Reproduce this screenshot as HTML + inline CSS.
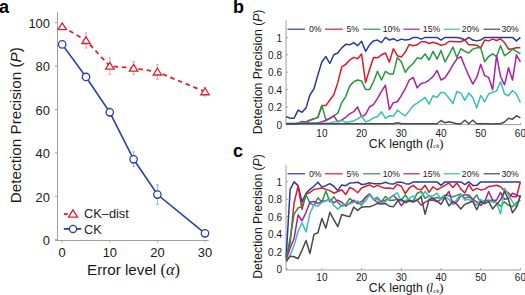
<!DOCTYPE html>
<html><head><meta charset="utf-8"><style>
html,body{margin:0;padding:0;background:#fff;}
body{width:525px;height:295px;overflow:hidden;}
svg{display:block;}
</style></head><body>
<svg width="525" height="295" viewBox="0 0 525 295">
<rect width="525" height="295" fill="#fff"/>
<text x="-1" y="12.7" font-size="18" font-weight="bold" font-family="Liberation Sans, sans-serif">a</text>
<line x1="57.5" y1="12" x2="57.5" y2="240.5" stroke="#a0a0a0" stroke-width="1"/>
<line x1="55" y1="240.5" x2="208.7" y2="240.5" stroke="#a0a0a0" stroke-width="1"/>
<line x1="55" y1="239.7" x2="57.5" y2="239.7" stroke="#a0a0a0" stroke-width="1"/>
<text x="49.9" y="244.9" font-size="12.9" text-anchor="end" font-family="Liberation Sans, sans-serif" fill="#1a1a1a">0</text>
<line x1="55" y1="196.3" x2="57.5" y2="196.3" stroke="#a0a0a0" stroke-width="1"/>
<text x="49.9" y="201.5" font-size="12.9" text-anchor="end" font-family="Liberation Sans, sans-serif" fill="#1a1a1a">20</text>
<line x1="55" y1="152.9" x2="57.5" y2="152.9" stroke="#a0a0a0" stroke-width="1"/>
<text x="49.9" y="158.1" font-size="12.9" text-anchor="end" font-family="Liberation Sans, sans-serif" fill="#1a1a1a">40</text>
<line x1="55" y1="109.5" x2="57.5" y2="109.5" stroke="#a0a0a0" stroke-width="1"/>
<text x="49.9" y="114.7" font-size="12.9" text-anchor="end" font-family="Liberation Sans, sans-serif" fill="#1a1a1a">60</text>
<line x1="55" y1="66.1" x2="57.5" y2="66.1" stroke="#a0a0a0" stroke-width="1"/>
<text x="49.9" y="71.3" font-size="12.9" text-anchor="end" font-family="Liberation Sans, sans-serif" fill="#1a1a1a">80</text>
<line x1="55" y1="22.7" x2="57.5" y2="22.7" stroke="#a0a0a0" stroke-width="1"/>
<text x="49.9" y="27.9" font-size="12.9" text-anchor="end" font-family="Liberation Sans, sans-serif" fill="#1a1a1a">100</text>
<line x1="62.2" y1="240.5" x2="62.2" y2="242.5" stroke="#a0a0a0" stroke-width="1"/>
<text x="62.2" y="256.7" font-size="12.9" text-anchor="middle" font-family="Liberation Sans, sans-serif" fill="#1a1a1a">0</text>
<line x1="109.8" y1="240.5" x2="109.8" y2="242.5" stroke="#a0a0a0" stroke-width="1"/>
<text x="109.8" y="256.7" font-size="12.9" text-anchor="middle" font-family="Liberation Sans, sans-serif" fill="#1a1a1a">10</text>
<line x1="157.4" y1="240.5" x2="157.4" y2="242.5" stroke="#a0a0a0" stroke-width="1"/>
<text x="157.4" y="256.7" font-size="12.9" text-anchor="middle" font-family="Liberation Sans, sans-serif" fill="#1a1a1a">20</text>
<line x1="205" y1="240.5" x2="205" y2="242.5" stroke="#a0a0a0" stroke-width="1"/>
<text x="205" y="256.7" font-size="12.9" text-anchor="middle" font-family="Liberation Sans, sans-serif" fill="#1a1a1a">30</text>
<text x="87" y="275.2" font-size="15.2" font-family="Liberation Sans, sans-serif" fill="#1a1a1a">Error level <tspan font-family="Liberation Serif, serif" font-size="16.5">(</tspan><tspan font-family="Liberation Serif, serif" font-style="italic" font-size="16.5">α</tspan><tspan font-family="Liberation Serif, serif" font-size="16.5">)</tspan></text>
<text transform="translate(21,125.2) rotate(-90)" x="0" y="0" font-size="15.25" text-anchor="middle" font-family="Liberation Sans, sans-serif" fill="#1a1a1a">Detection Precision (<tspan font-style="italic">P</tspan>)</text>
<path d="M86 32.9V48.09M84.7 32.9H87.3M84.7 48.09H87.3" stroke="#ef8a90" stroke-width="0.8" fill="none"/>
<path d="M109.8 57.85V74.35M108.5 57.85H111.1M108.5 74.35H111.1" stroke="#ef8a90" stroke-width="0.8" fill="none"/>
<path d="M133.6 61.54V74.56M132.3 61.54H134.9M132.3 74.56H134.9" stroke="#ef8a90" stroke-width="0.8" fill="none"/>
<path d="M157.4 64.36V79.55M156.1 64.36H158.7M156.1 79.55H158.7" stroke="#ef8a90" stroke-width="0.8" fill="none"/>
<path d="M205 87.37V96.05M203.7 87.37H206.3M203.7 96.05H206.3" stroke="#ef8a90" stroke-width="0.8" fill="none"/>
<path d="M109.8 107.98V116.66M108.5 107.98H111.1M108.5 116.66H111.1" stroke="#8a93c8" stroke-width="0.8" fill="none"/>
<path d="M133.6 151.92V166.68M132.3 151.92H134.9M132.3 166.68H134.9" stroke="#8a93c8" stroke-width="0.8" fill="none"/>
<path d="M157.4 184.8V204.33M156.1 184.8H158.7M156.1 204.33H158.7" stroke="#8a93c8" stroke-width="0.8" fill="none"/>
<path d="M205 231.13V235.47M203.7 231.13H206.3M203.7 235.47H206.3" stroke="#8a93c8" stroke-width="0.8" fill="none"/>
<polyline points="62.2,26.61 86,40.49 109.8,66.1 133.6,68.05 157.4,71.96 205,91.71" fill="none" stroke="#e0202e" stroke-width="1.8" stroke-dasharray="4.5 3.8"/>
<polyline points="62.2,44.4 86,76.95 109.8,112.32 133.6,159.3 157.4,194.56 205,233.3" fill="none" stroke="#2c3ea6" stroke-width="1.6"/>
<path d="M62.2 22.91L66.4 29.63H58Z" fill="#fff" stroke="#e0202e" stroke-width="1.3"/>
<path d="M86 36.8L90.2 43.52H81.8Z" fill="#fff" stroke="#e0202e" stroke-width="1.3"/>
<path d="M109.8 62.4L114 69.12H105.6Z" fill="#fff" stroke="#e0202e" stroke-width="1.3"/>
<path d="M133.6 64.36L137.8 71.08H129.4Z" fill="#fff" stroke="#e0202e" stroke-width="1.3"/>
<path d="M157.4 68.26L161.6 74.98H153.2Z" fill="#fff" stroke="#e0202e" stroke-width="1.3"/>
<path d="M205 88.01L209.2 94.73H200.8Z" fill="#fff" stroke="#e0202e" stroke-width="1.3"/>
<circle cx="62.2" cy="44.4" r="3.7" fill="#fff" stroke="#2c3ea6" stroke-width="1.3"/>
<circle cx="86" cy="76.95" r="3.7" fill="#fff" stroke="#2c3ea6" stroke-width="1.3"/>
<circle cx="109.8" cy="112.32" r="3.7" fill="#fff" stroke="#2c3ea6" stroke-width="1.3"/>
<circle cx="133.6" cy="159.3" r="3.7" fill="#fff" stroke="#2c3ea6" stroke-width="1.3"/>
<circle cx="157.4" cy="194.56" r="3.7" fill="#fff" stroke="#2c3ea6" stroke-width="1.3"/>
<circle cx="205" cy="233.3" r="3.7" fill="#fff" stroke="#2c3ea6" stroke-width="1.3"/>
<path d="M63.8 214.1H67.6" stroke="#e0202e" stroke-width="2"/>
<path d="M73 209.84L77.5 217.04H68.5Z" fill="#fff" stroke="#e0202e" stroke-width="1.3"/>
<text x="84" y="218" font-size="12.8" font-family="Liberation Sans, sans-serif" fill="#1a1a1a">CK–dist</text>
<line x1="63.8" y1="228.9" x2="81.3" y2="228.9" stroke="#2c3ea6" stroke-width="1.8"/>
<circle cx="73" cy="228.9" r="3.6" fill="#fff" stroke="#2c3ea6" stroke-width="1.3"/>
<text x="84" y="233.6" font-size="12.7" font-family="Liberation Sans, sans-serif" fill="#1a1a1a">CK</text>
<text x="233" y="12.7" font-size="18" font-weight="bold" font-family="Liberation Sans, sans-serif">b</text>
<line x1="286.0" y1="20.4" x2="286.0" y2="124.6" stroke="#a0a0a0" stroke-width="1"/>
<line x1="285.5" y1="124.6" x2="520.6" y2="124.6" stroke="#a0a0a0" stroke-width="1"/>
<line x1="286.0" y1="124.4" x2="288.0" y2="124.4" stroke="#a0a0a0" stroke-width="1"/>
<text x="282" y="128.5" font-size="10" text-anchor="end" font-family="Liberation Sans, sans-serif" fill="#1a1a1a">0</text>
<line x1="286.0" y1="107" x2="288.0" y2="107" stroke="#a0a0a0" stroke-width="1"/>
<text x="282" y="111.1" font-size="10" text-anchor="end" font-family="Liberation Sans, sans-serif" fill="#1a1a1a">0.2</text>
<line x1="286.0" y1="89.6" x2="288.0" y2="89.6" stroke="#a0a0a0" stroke-width="1"/>
<text x="282" y="93.7" font-size="10" text-anchor="end" font-family="Liberation Sans, sans-serif" fill="#1a1a1a">0.4</text>
<line x1="286.0" y1="72.2" x2="288.0" y2="72.2" stroke="#a0a0a0" stroke-width="1"/>
<text x="282" y="76.3" font-size="10" text-anchor="end" font-family="Liberation Sans, sans-serif" fill="#1a1a1a">0.6</text>
<line x1="286.0" y1="54.8" x2="288.0" y2="54.8" stroke="#a0a0a0" stroke-width="1"/>
<text x="282" y="58.9" font-size="10" text-anchor="end" font-family="Liberation Sans, sans-serif" fill="#1a1a1a">0.8</text>
<line x1="286.0" y1="37.4" x2="288.0" y2="37.4" stroke="#a0a0a0" stroke-width="1"/>
<text x="282" y="41.5" font-size="10" text-anchor="end" font-family="Liberation Sans, sans-serif" fill="#1a1a1a">1</text>
<line x1="321.9" y1="124.6" x2="321.9" y2="122.6" stroke="#a0a0a0" stroke-width="1"/>
<text x="321.9" y="136.6" font-size="10" text-anchor="middle" font-family="Liberation Sans, sans-serif" fill="#1a1a1a">10</text>
<line x1="361.6" y1="124.6" x2="361.6" y2="122.6" stroke="#a0a0a0" stroke-width="1"/>
<text x="361.6" y="136.6" font-size="10" text-anchor="middle" font-family="Liberation Sans, sans-serif" fill="#1a1a1a">20</text>
<line x1="401.3" y1="124.6" x2="401.3" y2="122.6" stroke="#a0a0a0" stroke-width="1"/>
<text x="401.3" y="136.6" font-size="10" text-anchor="middle" font-family="Liberation Sans, sans-serif" fill="#1a1a1a">30</text>
<line x1="441" y1="124.6" x2="441" y2="122.6" stroke="#a0a0a0" stroke-width="1"/>
<text x="441" y="136.6" font-size="10" text-anchor="middle" font-family="Liberation Sans, sans-serif" fill="#1a1a1a">40</text>
<line x1="480.7" y1="124.6" x2="480.7" y2="122.6" stroke="#a0a0a0" stroke-width="1"/>
<text x="480.7" y="136.6" font-size="10" text-anchor="middle" font-family="Liberation Sans, sans-serif" fill="#1a1a1a">50</text>
<line x1="520.4" y1="124.6" x2="520.4" y2="122.6" stroke="#a0a0a0" stroke-width="1"/>
<text x="520.4" y="136.6" font-size="10" text-anchor="middle" font-family="Liberation Sans, sans-serif" fill="#1a1a1a">60</text>
<text x="368.8" y="147.6" font-size="12.3" font-family="Liberation Sans, sans-serif" fill="#1a1a1a">CK length <tspan font-family="Liberation Serif, serif" font-size="13.5">(</tspan><tspan font-family="Liberation Serif, serif" font-style="italic" font-size="13" dx="-1.1">l</tspan><tspan font-size="6.8" font-family="Liberation Serif, serif" font-style="italic" dy="0.6">ck</tspan><tspan font-family="Liberation Serif, serif" font-size="13.5" dy="-0.6" dx="-0.3">)</tspan></text>
<text transform="translate(262.4,71.9) rotate(-90)" x="0" y="0" font-size="12.2" text-anchor="middle" font-family="Liberation Sans, sans-serif" fill="#1a1a1a">Detection Precision (<tspan font-style="italic">P</tspan>)</text>
<polyline points="286.17,116.83 290.14,118.14 294.11,118.14 298.08,110.05 302.05,112.22 306.02,107.87 309.99,94.82 313.96,88.73 317.93,74.81 321.9,61.76 325.87,56.54 329.84,63.5 333.81,54.8 337.78,53.06 341.75,47.84 345.72,44.36 349.69,44.8 353.66,42.62 357.63,45.67 361.6,41.32 365.57,51.32 369.54,44.8 373.51,40.88 377.48,40.01 381.45,42.62 385.42,37.4 389.39,40.01 393.36,38.71 397.33,40.88 401.3,39.14 405.27,40.01 409.24,39.58 413.21,37.4 417.18,37.4 421.15,39.14 425.12,37.4 429.09,37.4 433.06,37.4 437.03,37.4 441,40.01 444.97,37.4 448.94,37.4 452.91,37.4 456.88,37.4 460.85,38.27 464.82,40.01 468.79,37.4 472.76,40.01 476.73,40.88 480.7,40.01 484.67,37.4 488.64,37.4 492.61,37.4 496.58,37.4 500.55,37.4 504.52,37.4 508.49,37.4 512.46,37.4 516.43,40.88 520.4,37.4" fill="none" stroke="#2a3a9e" stroke-width="1.5" stroke-linejoin="round"/>
<polyline points="286.17,123.79 290.14,123.79 294.11,123.79 298.08,123.53 302.05,122.83 306.02,121.88 309.99,120.22 313.96,118.83 317.93,117.27 321.9,105.61 325.87,105.61 329.84,100.04 333.81,94.82 337.78,82.64 341.75,66.98 345.72,64.37 349.69,60.02 353.66,57.41 357.63,58.72 361.6,53.93 365.57,82.64 369.54,69.59 373.51,57.41 377.48,57.84 381.45,54.8 385.42,53.06 389.39,62.11 393.36,48.71 397.33,55.67 401.3,57.06 405.27,52.19 409.24,44.36 413.21,45.67 417.18,44.8 421.15,41.75 425.12,41.75 429.09,43.49 433.06,42.19 437.03,43.49 441,45.23 444.97,44.36 448.94,41.49 452.91,41.49 456.88,41.75 460.85,41.75 464.82,40.01 468.79,44.8 472.76,44.8 476.73,45.23 480.7,47.84 484.67,40.01 488.64,40.88 492.61,39.14 496.58,40.45 500.55,38.71 504.52,42.62 508.49,49.15 512.46,48.71 516.43,47.84 520.4,47.84" fill="none" stroke="#d91c2a" stroke-width="1.5" stroke-linejoin="round"/>
<polyline points="286.17,123.79 290.14,123.79 294.11,123.79 298.08,123.53 302.05,122.83 306.02,121.88 309.99,120.22 313.96,118.83 317.93,117.27 321.9,105.61 325.87,119.88 329.84,118.31 333.81,115.79 337.78,113.18 341.75,102.65 345.72,96.56 349.69,86.12 353.66,81.77 357.63,80.03 361.6,80.9 365.57,89.6 369.54,89.6 373.51,81.77 377.48,71.33 381.45,80.03 385.42,71.33 389.39,73.94 393.36,73.94 397.33,57.41 401.3,61.76 405.27,72.2 409.24,66.98 413.21,63.5 417.18,57.84 421.15,58.72 425.12,53.93 429.09,60.02 433.06,51.32 437.03,59.15 441,50.45 444.97,61.76 448.94,54.8 452.91,46.97 456.88,57.41 460.85,48.71 464.82,51.32 468.79,53.06 472.76,49.15 476.73,47.84 480.7,47.84 484.67,61.76 488.64,56.54 492.61,53.93 496.58,56.54 500.55,45.67 504.52,55.67 508.49,53.06 512.46,49.15 516.43,51.32 520.4,53.93" fill="none" stroke="#22993c" stroke-width="1.5" stroke-linejoin="round"/>
<polyline points="286.17,123.79 290.14,123.79 294.11,123.79 298.08,123.09 302.05,121.44 306.02,122.23 309.99,123.09 313.96,123.09 317.93,122.66 321.9,121.79 325.87,120.57 329.84,118.31 333.81,115.79 337.78,121.88 341.75,119.88 345.72,117.27 349.69,113.79 353.66,111.7 357.63,107 361.6,116.83 365.57,114.31 369.54,106.74 373.51,104.56 377.48,98.3 381.45,91.34 385.42,85.25 389.39,109.61 393.36,102.65 397.33,101.78 401.3,95.69 405.27,88.73 409.24,80.03 413.21,77.42 417.18,87.86 421.15,83.51 425.12,82.64 429.09,80.03 433.06,76.55 437.03,70.46 441,80.03 444.97,77.94 448.94,71.77 452.91,64.89 456.88,58.8 460.85,56.54 464.82,66.55 468.79,75.68 472.76,84.03 476.73,77.42 480.7,64.37 484.67,75.68 488.64,77.42 492.61,89.6 496.58,55.67 500.55,76.55 504.52,84.81 508.49,67.85 512.46,80.03 516.43,54.8 520.4,61.76" fill="none" stroke="#a8229f" stroke-width="1.5" stroke-linejoin="round"/>
<polyline points="286.17,123.27 290.14,123.27 294.11,123.27 298.08,123.27 302.05,123.27 306.02,123.27 309.99,123.27 313.96,123.27 317.93,123.27 321.9,123.27 325.87,123.27 329.84,123.27 333.81,121.88 337.78,121.36 341.75,120.4 345.72,122.4 349.69,121.79 353.66,120.92 357.63,118.83 361.6,116.14 365.57,121.88 369.54,120.48 373.51,117.79 377.48,116.83 381.45,111.79 385.42,118.31 389.39,115.87 393.36,116.22 397.33,110.22 401.3,113.26 405.27,115.87 409.24,110.92 413.21,105.7 417.18,103.09 421.15,100.3 425.12,97.43 429.09,104.13 433.06,95.69 437.03,97.43 441,92.21 444.97,93.08 448.94,98.3 452.91,103.52 456.88,91.51 460.85,93.08 464.82,100.3 468.79,93.08 472.76,97.43 476.73,107.87 480.7,95.43 484.67,101.78 488.64,93.95 492.61,92.21 496.58,90.91 500.55,81.77 504.52,93.95 508.49,95.69 512.46,90.47 516.43,93.95 520.4,102.65" fill="none" stroke="#3dbdb8" stroke-width="1.5" stroke-linejoin="round"/>
<polyline points="286.17,123.79 290.14,123.79 294.11,123.79 298.08,123.79 302.05,123.79 306.02,123.79 309.99,123.79 313.96,123.79 317.93,123.79 321.9,123.79 325.87,123.79 329.84,123.79 333.81,123.79 337.78,123.79 341.75,123.79 345.72,123.79 349.69,123.79 353.66,123.79 357.63,123.79 361.6,123.79 365.57,123.79 369.54,123.79 373.51,123.79 377.48,123.79 381.45,123.79 385.42,123.79 389.39,123.79 393.36,123.79 397.33,122.66 401.3,123.79 405.27,123.79 409.24,123.79 413.21,123.79 417.18,123.79 421.15,123.79 425.12,123.79 429.09,123.79 433.06,123.79 437.03,123.79 441,120.48 444.97,122.83 448.94,121.79 452.91,122.83 456.88,123.79 460.85,123.79 464.82,120.31 468.79,123.79 472.76,120.31 476.73,123.79 480.7,123.79 484.67,123.79 488.64,123.7 492.61,123.97 496.58,123.7 500.55,123.79 504.52,122.05 508.49,118.31 512.46,119.18 516.43,115.7 520.4,117.88" fill="none" stroke="#4a4a4a" stroke-width="1.5" stroke-linejoin="round"/>
<line x1="287.5" y1="29.2" x2="305" y2="29.2" stroke="#2a3a9e" stroke-width="1.2"/>
<text x="309" y="32.2" font-size="8.7" font-family="Liberation Sans, sans-serif" fill="#1a1a1a">0%</text>
<line x1="325" y1="29.2" x2="342.7" y2="29.2" stroke="#d91c2a" stroke-width="1.2"/>
<text x="346.5" y="32.2" font-size="8.7" font-family="Liberation Sans, sans-serif" fill="#1a1a1a">5%</text>
<line x1="363.1" y1="29.2" x2="380.3" y2="29.2" stroke="#22993c" stroke-width="1.2"/>
<text x="382.7" y="32.2" font-size="8.7" font-family="Liberation Sans, sans-serif" fill="#1a1a1a">10%</text>
<line x1="403.4" y1="29.2" x2="419.7" y2="29.2" stroke="#a8229f" stroke-width="1.2"/>
<text x="422.8" y="32.2" font-size="8.7" font-family="Liberation Sans, sans-serif" fill="#1a1a1a">15%</text>
<line x1="443.6" y1="29.2" x2="460" y2="29.2" stroke="#3dbdb8" stroke-width="1.2"/>
<text x="461.8" y="32.2" font-size="8.7" font-family="Liberation Sans, sans-serif" fill="#1a1a1a">20%</text>
<line x1="483.6" y1="29.2" x2="500" y2="29.2" stroke="#4a4a4a" stroke-width="1.2"/>
<text x="501.4" y="32.2" font-size="8.7" font-family="Liberation Sans, sans-serif" fill="#1a1a1a">30%</text>
<text x="233" y="157.3" font-size="18" font-weight="bold" font-family="Liberation Sans, sans-serif">c</text>
<line x1="286.0" y1="165" x2="286.0" y2="270" stroke="#a0a0a0" stroke-width="1"/>
<line x1="285.5" y1="270" x2="520.6" y2="270" stroke="#a0a0a0" stroke-width="1"/>
<line x1="286.0" y1="268.9" x2="288.0" y2="268.9" stroke="#a0a0a0" stroke-width="1"/>
<text x="282" y="273" font-size="10" text-anchor="end" font-family="Liberation Sans, sans-serif" fill="#1a1a1a">0</text>
<line x1="286.0" y1="251.5" x2="288.0" y2="251.5" stroke="#a0a0a0" stroke-width="1"/>
<text x="282" y="255.6" font-size="10" text-anchor="end" font-family="Liberation Sans, sans-serif" fill="#1a1a1a">0.2</text>
<line x1="286.0" y1="234.1" x2="288.0" y2="234.1" stroke="#a0a0a0" stroke-width="1"/>
<text x="282" y="238.2" font-size="10" text-anchor="end" font-family="Liberation Sans, sans-serif" fill="#1a1a1a">0.4</text>
<line x1="286.0" y1="216.7" x2="288.0" y2="216.7" stroke="#a0a0a0" stroke-width="1"/>
<text x="282" y="220.8" font-size="10" text-anchor="end" font-family="Liberation Sans, sans-serif" fill="#1a1a1a">0.6</text>
<line x1="286.0" y1="199.3" x2="288.0" y2="199.3" stroke="#a0a0a0" stroke-width="1"/>
<text x="282" y="203.4" font-size="10" text-anchor="end" font-family="Liberation Sans, sans-serif" fill="#1a1a1a">0.8</text>
<line x1="286.0" y1="181.9" x2="288.0" y2="181.9" stroke="#a0a0a0" stroke-width="1"/>
<text x="282" y="186" font-size="10" text-anchor="end" font-family="Liberation Sans, sans-serif" fill="#1a1a1a">1</text>
<line x1="321.9" y1="270" x2="321.9" y2="268" stroke="#a0a0a0" stroke-width="1"/>
<text x="321.9" y="281.2" font-size="10" text-anchor="middle" font-family="Liberation Sans, sans-serif" fill="#1a1a1a">10</text>
<line x1="361.6" y1="270" x2="361.6" y2="268" stroke="#a0a0a0" stroke-width="1"/>
<text x="361.6" y="281.2" font-size="10" text-anchor="middle" font-family="Liberation Sans, sans-serif" fill="#1a1a1a">20</text>
<line x1="401.3" y1="270" x2="401.3" y2="268" stroke="#a0a0a0" stroke-width="1"/>
<text x="401.3" y="281.2" font-size="10" text-anchor="middle" font-family="Liberation Sans, sans-serif" fill="#1a1a1a">30</text>
<line x1="441" y1="270" x2="441" y2="268" stroke="#a0a0a0" stroke-width="1"/>
<text x="441" y="281.2" font-size="10" text-anchor="middle" font-family="Liberation Sans, sans-serif" fill="#1a1a1a">40</text>
<line x1="480.7" y1="270" x2="480.7" y2="268" stroke="#a0a0a0" stroke-width="1"/>
<text x="480.7" y="281.2" font-size="10" text-anchor="middle" font-family="Liberation Sans, sans-serif" fill="#1a1a1a">50</text>
<line x1="520.4" y1="270" x2="520.4" y2="268" stroke="#a0a0a0" stroke-width="1"/>
<text x="520.4" y="281.2" font-size="10" text-anchor="middle" font-family="Liberation Sans, sans-serif" fill="#1a1a1a">60</text>
<text x="368.8" y="292.2" font-size="12.3" font-family="Liberation Sans, sans-serif" fill="#1a1a1a">CK length <tspan font-family="Liberation Serif, serif" font-size="13.5">(</tspan><tspan font-family="Liberation Serif, serif" font-style="italic" font-size="13" dx="-1.1">l</tspan><tspan font-size="6.8" font-family="Liberation Serif, serif" font-style="italic" dy="0.6">ck</tspan><tspan font-family="Liberation Serif, serif" font-size="13.5" dy="-0.6" dx="-0.3">)</tspan></text>
<text transform="translate(262.4,216.5) rotate(-90)" x="0" y="0" font-size="12.2" text-anchor="middle" font-family="Liberation Sans, sans-serif" fill="#1a1a1a">Detection Precision (<tspan font-style="italic">P</tspan>)</text>
<polyline points="286.17,256.72 290.14,189.38 294.11,181.9 298.08,185.64 302.05,201.91 306.02,193.21 309.99,189.38 313.96,186.25 317.93,182.16 321.9,187.12 325.87,185.64 329.84,183.64 333.81,186.25 337.78,190.6 341.75,184.94 345.72,185.64 349.69,183.12 353.66,182.77 357.63,182.16 361.6,184.51 365.57,184.07 369.54,182.77 373.51,183.64 377.48,183.64 381.45,183.64 385.42,182.33 389.39,183.64 393.36,184.07 397.33,182.16 401.3,182.16 405.27,183.64 409.24,184.07 413.21,181.9 417.18,181.9 421.15,181.9 425.12,181.9 429.09,181.9 433.06,181.9 437.03,181.9 441,185.38 444.97,181.9 448.94,181.9 452.91,181.9 456.88,181.9 460.85,181.9 464.82,184.51 468.79,181.9 472.76,185.38 476.73,185.38 480.7,181.9 484.67,181.9 488.64,181.9 492.61,181.9 496.58,181.9 500.55,181.9 504.52,181.9 508.49,181.9 512.46,181.9 516.43,181.9 520.4,181.9" fill="none" stroke="#2a3a9e" stroke-width="1.5" stroke-linejoin="round"/>
<polyline points="286.17,257.59 290.14,242.8 294.11,202.78 298.08,186.25 302.05,209.3 306.02,194.08 309.99,192.51 313.96,189.38 317.93,188.86 321.9,187.99 325.87,189.38 329.84,190.6 333.81,193.21 337.78,191.47 341.75,189.73 345.72,194.51 349.69,187.55 353.66,189.29 357.63,192.77 361.6,187.99 365.57,186.25 369.54,184.94 373.51,187.12 377.48,185.38 381.45,187.12 385.42,188.16 389.39,187.99 393.36,188.86 397.33,184.34 401.3,186.25 405.27,193.56 409.24,187.99 413.21,185.38 417.18,188.86 421.15,189.73 425.12,185.38 429.09,192.34 433.06,186.77 437.03,189.73 441,187.55 444.97,185.29 448.94,182.94 452.91,187.55 456.88,182.94 460.85,189.12 464.82,192.95 468.79,184.51 472.76,190.6 476.73,188.34 480.7,189.9 484.67,189.12 488.64,186.51 492.61,186.08 496.58,185.29 500.55,186.77 504.52,190.6 508.49,192.95 512.46,196.69 516.43,196.69 520.4,181.9" fill="none" stroke="#d91c2a" stroke-width="1.5" stroke-linejoin="round"/>
<polyline points="286.17,258.46 290.14,238.45 294.11,214.09 298.08,208 302.05,206.26 306.02,194.78 309.99,203.21 313.96,205.39 317.93,197.82 321.9,201.91 325.87,191.03 329.84,201.91 333.81,196.69 337.78,202.34 341.75,206.26 345.72,204.52 349.69,198.43 353.66,201.91 357.63,201.91 361.6,205.39 365.57,196.95 369.54,194.51 373.51,199.3 377.48,197.56 381.45,201.91 385.42,196.43 389.39,200.17 393.36,200.17 397.33,199.3 401.3,200.17 405.27,194.95 409.24,200.17 413.21,201.04 417.18,193.21 421.15,191.47 425.12,198.43 429.09,195.82 433.06,198.43 437.03,197.56 441,198.43 444.97,194.95 448.94,195.82 452.91,196.69 456.88,195.38 460.85,194.08 464.82,198.43 468.79,196.69 472.76,199.73 476.73,194.95 480.7,202.78 484.67,200.6 488.64,200.17 492.61,200.6 496.58,202.78 500.55,206.26 504.52,201.91 508.49,205.39 512.46,206.69 516.43,202.78 520.4,200.17" fill="none" stroke="#22993c" stroke-width="1.5" stroke-linejoin="round"/>
<polyline points="286.17,259.59 290.14,248.02 294.11,238.45 298.08,214.96 302.05,220.7 306.02,212.35 309.99,201.91 313.96,201.47 317.93,203.65 321.9,201.04 325.87,200.69 329.84,199.3 333.81,202.78 337.78,200.17 341.75,202.26 345.72,206.09 349.69,203.04 353.66,200.17 357.63,203.65 361.6,201.47 365.57,197.56 369.54,193.82 373.51,199.3 377.48,202.26 381.45,201.91 385.42,200.17 389.39,198.43 393.36,195.38 397.33,199.3 401.3,205.65 405.27,201.04 409.24,200.17 413.21,201.91 417.18,200.17 421.15,205.13 425.12,202.17 429.09,200.17 433.06,200.17 437.03,201.91 441,199.3 444.97,196.69 448.94,191.47 452.91,204.35 456.88,201.91 460.85,195.82 464.82,194.95 468.79,194.95 472.76,199.3 476.73,201.91 480.7,205.39 484.67,201.91 488.64,191.47 492.61,200.17 496.58,200.17 500.55,192.34 504.52,199.3 508.49,198.43 512.46,193.21 516.43,194.95 520.4,196.69" fill="none" stroke="#a8229f" stroke-width="1.5" stroke-linejoin="round"/>
<polyline points="286.17,262.46 290.14,254.98 294.11,245.41 298.08,231.49 302.05,222.79 306.02,232.01 309.99,212.96 313.96,204.95 317.93,206.26 321.9,202.34 325.87,201.04 329.84,199.3 333.81,205.39 337.78,209.13 341.75,205.39 345.72,204.08 349.69,204.08 353.66,202.26 357.63,201.04 361.6,204.52 365.57,201.04 369.54,194.95 373.51,199.3 377.48,199.3 381.45,203.04 385.42,201.47 389.39,198.43 393.36,195.38 397.33,192.77 401.3,201.47 405.27,200.6 409.24,198.43 413.21,195.82 417.18,200.6 421.15,196.69 425.12,191.47 429.09,196.25 433.06,195.82 437.03,193.21 441,199.3 444.97,196.69 448.94,199.3 452.91,204.35 456.88,199.3 460.85,194.51 464.82,200.17 468.79,199.3 472.76,201.91 476.73,205.13 480.7,199.3 484.67,203.65 488.64,201.04 492.61,201.91 496.58,202.78 500.55,214.09 504.52,188.34 508.49,194.95 512.46,201.91 516.43,207.13 520.4,195.82" fill="none" stroke="#3dbdb8" stroke-width="1.5" stroke-linejoin="round"/>
<polyline points="286.17,261.07 290.14,256.28 294.11,256.72 298.08,258.72 302.05,250.11 306.02,240.54 309.99,253.41 313.96,234.36 317.93,232.79 321.9,218.44 325.87,228.18 329.84,212.35 333.81,219.57 337.78,226.7 341.75,214.52 345.72,215.83 349.69,216.7 353.66,207.13 357.63,210.44 361.6,207.13 365.57,206.87 369.54,206.87 373.51,205.39 377.48,203.39 381.45,203.91 385.42,203.39 389.39,206.26 393.36,206.87 397.33,201.47 401.3,199.3 405.27,202.78 409.24,201.04 413.21,201.91 417.18,200.17 421.15,196.69 425.12,214.35 429.09,199.3 433.06,198.43 437.03,201.04 441,204.35 444.97,197.47 448.94,205.91 452.91,201.3 456.88,204.35 460.85,208.96 464.82,204.35 468.79,202.78 472.76,201.3 476.73,209.74 480.7,201.3 484.67,203.56 488.64,201.3 492.61,208.96 496.58,204.35 500.55,199.73 504.52,191.3 508.49,199.73 512.46,212.7 516.43,207.39 520.4,195.21" fill="none" stroke="#4a4a4a" stroke-width="1.5" stroke-linejoin="round"/>
<line x1="287.5" y1="173.8" x2="305" y2="173.8" stroke="#2a3a9e" stroke-width="1.2"/>
<text x="309" y="176.8" font-size="8.7" font-family="Liberation Sans, sans-serif" fill="#1a1a1a">0%</text>
<line x1="325" y1="173.8" x2="342.7" y2="173.8" stroke="#d91c2a" stroke-width="1.2"/>
<text x="346.5" y="176.8" font-size="8.7" font-family="Liberation Sans, sans-serif" fill="#1a1a1a">5%</text>
<line x1="363.1" y1="173.8" x2="380.3" y2="173.8" stroke="#22993c" stroke-width="1.2"/>
<text x="382.7" y="176.8" font-size="8.7" font-family="Liberation Sans, sans-serif" fill="#1a1a1a">10%</text>
<line x1="403.4" y1="173.8" x2="419.7" y2="173.8" stroke="#a8229f" stroke-width="1.2"/>
<text x="422.8" y="176.8" font-size="8.7" font-family="Liberation Sans, sans-serif" fill="#1a1a1a">15%</text>
<line x1="443.6" y1="173.8" x2="460" y2="173.8" stroke="#3dbdb8" stroke-width="1.2"/>
<text x="461.8" y="176.8" font-size="8.7" font-family="Liberation Sans, sans-serif" fill="#1a1a1a">20%</text>
<line x1="483.6" y1="173.8" x2="500" y2="173.8" stroke="#4a4a4a" stroke-width="1.2"/>
<text x="501.4" y="176.8" font-size="8.7" font-family="Liberation Sans, sans-serif" fill="#1a1a1a">30%</text>
</svg>
</body></html>
